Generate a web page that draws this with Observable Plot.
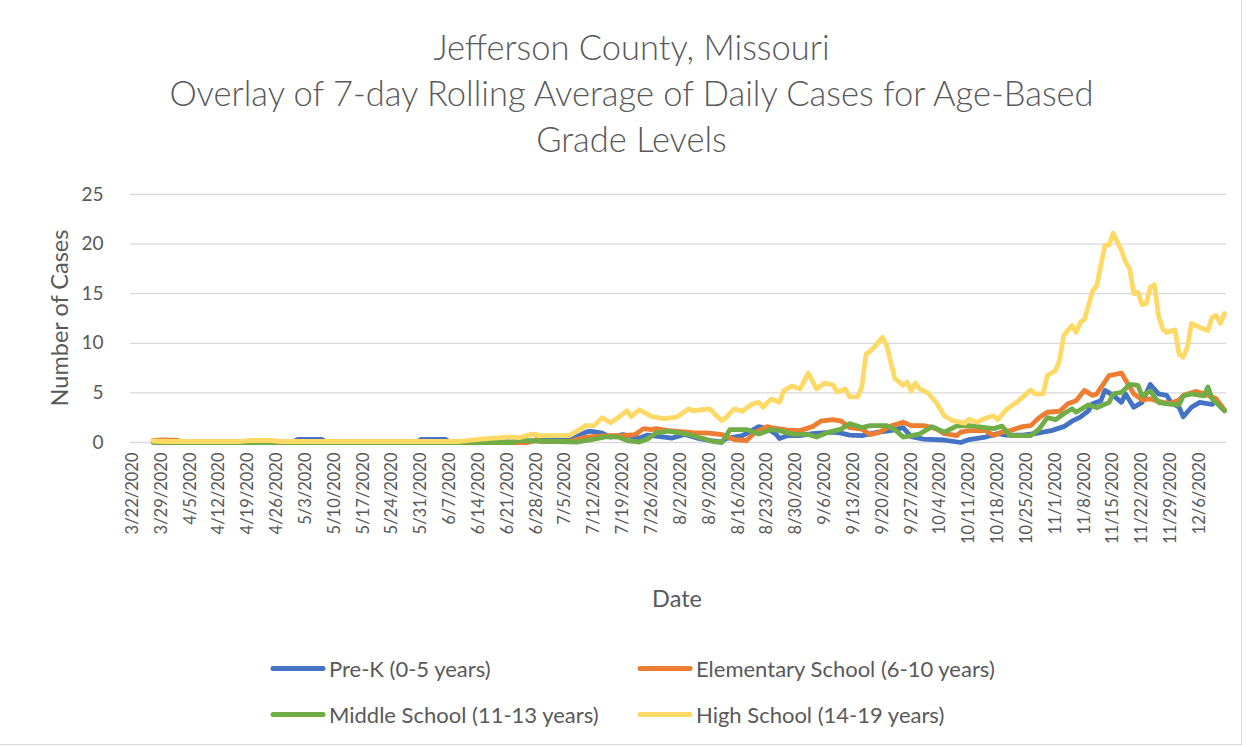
<!DOCTYPE html>
<html>
<head>
<meta charset="utf-8">
<script src="https://cdn.jsdelivr.net/npm/d3@7"></script>
<script src="https://cdn.jsdelivr.net/npm/@observablehq/plot@0.6"></script>
<style>
  html, body { margin: 0; padding: 0; background: #fff; }
  #wrap { position: relative; width: 1253px; height: 747px; overflow: hidden; font-family: Lato, "Open Sans", sans-serif; color: #595959; }
  #frame { position: absolute; left: 0; top: 0; width: 1242px; height: 745px; border-right: 1px solid #D9D9D9; border-bottom: 1px solid #D9D9D9; box-sizing: border-box; pointer-events: none; }
  #title { position: absolute; left: 10px; top: 24px; width: 1243px; text-align: center; font-size: 34.5px; line-height: 46px; font-weight: 300; }
  #chart { position: absolute; left: 0; top: 0; }
  .axtitle { position: absolute; font-size: 23.5px; white-space: nowrap; }
  #ytitle { left: 59px; top: 318px; transform: translate(-50%, -50%) rotate(-90deg); }
  #xtitle { left: 677px; top: 598px; transform: translate(-50%, -50%); }
  .leg { position: absolute; display: flex; align-items: center; font-size: 22px; white-space: nowrap; transform: translateY(-50%); }
  .leg svg { margin-right: 3px; }
</style>
</head>
<body>
<div id="wrap">
  <div id="chart"></div>
  <div id="title">Jefferson County, Missouri<br>Overlay of 7-day Rolling Average of Daily Cases for Age-Based<br>Grade Levels</div>
  <div class="axtitle" id="ytitle">Number of Cases</div>
  <div class="axtitle" id="xtitle">Date</div>
  <div id="legend"></div>
  <div id="frame"></div>
</div>
<script>
// ---- Data ----
const seriesNames = ["Pre-K (0-5 years)", "Elementary School (6-10 years)", "Middle School (11-13 years)", "High School (14-19 years)"];
const seriesColors = ["#4472C4", "#ED7D31", "#70AD47", "#FFD966"];

const yTicks = [0, 5, 10, 15, 20, 25];
const xTickLabels = ["3/22/2020","3/29/2020","4/5/2020","4/12/2020","4/19/2020","4/26/2020","5/3/2020","5/10/2020","5/17/2020","5/24/2020","5/31/2020","6/7/2020","6/14/2020","6/21/2020","6/28/2020","7/5/2020","7/12/2020","7/19/2020","7/26/2020","8/2/2020","8/9/2020","8/16/2020","8/23/2020","8/30/2020","9/6/2020","9/13/2020","9/20/2020","9/27/2020","10/4/2020","10/11/2020","10/18/2020","10/25/2020","11/1/2020","11/8/2020","11/15/2020","11/22/2020","11/29/2020","12/6/2020"];
const firstCategory = "3/22/2020";
const lastCategory = "12/12/2020";

const preKDates = ["3/27","4/30","5/1","5/7","5/8","5/30","5/31","6/6","6/7","6/20","6/29","7/6","7/10","7/11","7/14","7/16","7/19","7/23","7/25","7/29","7/31","8/3","8/6","8/9","8/12","8/13","8/17","8/21","8/23","8/25","8/26","8/28","8/31","9/3","9/8","9/10","9/12","9/15","9/19","9/22","9/25","9/27","9/30","10/5","10/9","10/11","10/15","10/18","10/20","10/24","10/27","10/31","11/3","11/5","11/7","11/9","11/10","11/12","11/13","11/15","11/17","11/18","11/20","11/22","11/24","11/26","11/28","11/29","12/1","12/2","12/4","12/6","12/9","12/10","12/12"];
const preKValues = [0.1,0.05,0.3,0.3,0.05,0.05,0.3,0.3,0.05,0.05,0.2,0.2,1.05,1.15,0.95,0.55,0.8,0.45,0.75,0.55,0.45,0.8,0.45,0.2,0.05,0.4,0.7,1.6,1.4,0.9,0.4,0.7,0.7,0.9,1.05,0.95,0.75,0.7,1.05,1.2,1.5,0.6,0.35,0.25,0.0,0.3,0.55,0.9,0.75,0.75,0.9,1.2,1.6,2.15,2.55,3.2,3.9,4.2,5.25,4.75,4.05,4.9,3.55,4.05,5.85,4.9,4.75,4.05,3.55,2.6,3.55,4.05,3.85,4.2,3.2];

const elemDates = ["3/27","3/29","4/2","4/3","6/26","6/28","6/29","7/6","7/10","7/15","7/19","7/22","7/24","7/26","7/27","7/30","8/2","8/5","8/9","8/12","8/15","8/18","8/20","8/23","8/24","8/28","8/31","9/3","9/5","9/8","9/10","9/12","9/15","9/17","9/19","9/22","9/25","9/27","9/30","10/3","10/5","10/8","10/9","10/11","10/15","10/17","10/19","10/21","10/24","10/26","10/28","10/30","11/2","11/4","11/6","11/8","11/10","11/11","11/14","11/17","11/18","11/20","11/22","11/24","11/27","11/29","12/1","12/2","12/5","12/7","12/10","12/12"];
const elemValues = [0.2,0.25,0.2,0.0,0.0,0.3,0.1,0.1,0.55,0.7,0.7,0.8,1.4,1.3,1.4,1.2,1.1,1.0,0.95,0.8,0.3,0.2,1.0,1.6,1.5,1.25,1.2,1.6,2.15,2.3,2.15,1.5,1.35,0.8,1.0,1.65,2.05,1.7,1.7,1.4,0.9,0.7,1.05,1.2,1.2,0.7,1.05,1.2,1.6,1.7,2.5,3.05,3.15,3.9,4.2,5.25,4.75,4.9,6.75,7.0,6.3,4.9,4.3,4.4,4.05,3.95,4.3,4.75,5.15,4.9,4.4,3.3];

const middleDates = ["3/27","6/22","6/24","7/8","7/12","7/15","7/18","7/20","7/23","7/25","7/27","7/30","8/2","8/4","8/7","8/10","8/12","8/14","8/18","8/21","8/24","8/26","8/29","9/2","9/4","9/7","9/10","9/12","9/15","9/17","9/21","9/23","9/25","9/29","10/2","10/5","10/8","10/11","10/15","10/17","10/19","10/21","10/24","10/26","10/28","10/30","11/1","11/3","11/5","11/6","11/9","11/11","11/14","11/15","11/17","11/19","11/21","11/22","11/24","11/26","11/28","12/1","12/2","12/4","12/7","12/8","12/9","12/12"];
const middleValues = [0.0,0.0,0.2,0.05,0.35,0.6,0.55,0.2,0.05,0.35,0.95,1.15,0.95,0.8,0.45,0.1,0.0,1.3,1.3,0.85,1.3,1.2,0.85,0.8,0.55,1.05,1.35,1.9,1.5,1.7,1.7,1.3,0.55,0.85,1.6,1.05,1.65,1.7,1.5,1.4,1.65,0.7,0.7,0.7,1.35,2.5,2.3,2.9,3.4,3.05,3.8,3.5,4.05,4.9,5.05,5.85,5.75,4.7,5.2,4.05,3.9,3.8,4.7,4.9,4.7,5.6,4.4,3.2];

const highDates = ["3/27","3/30","4/17","4/19","4/25","4/27","6/9","6/12","6/16","6/21","6/24","6/27","6/29","7/6","7/10","7/12","7/14","7/16","7/18","7/20","7/21","7/23","7/26","7/29","8/1","8/4","8/5","8/9","8/12","8/13","8/15","8/17","8/19","8/21","8/22","8/24","8/26","8/27","8/29","8/31","9/2","9/4","9/6","9/8","9/9","9/11","9/12","9/14","9/15","9/16","9/17","9/18","9/20","9/21","9/23","9/25","9/26","9/27","9/28","9/29","10/1","10/3","10/5","10/7","10/10","10/11","10/13","10/15","10/17","10/18","10/20","10/23","10/26","10/27","10/29","10/30","11/1","11/2","11/3","11/5","11/6","11/7","11/8","11/9","11/10","11/11","11/13","11/14","11/15","11/17","11/18","11/19","11/20","11/21","11/22","11/23","11/24","11/25","11/26","11/27","11/28","11/30","12/1","12/2","12/3","12/4","12/6","12/8","12/9","12/10","12/11","12/12"];
const highValues = [0.15,0.1,0.1,0.2,0.2,0.1,0.1,0.25,0.4,0.55,0.5,0.85,0.7,0.7,1.7,1.7,2.5,2.0,2.55,3.2,2.6,3.3,2.6,2.4,2.55,3.4,3.2,3.4,2.2,2.5,3.4,3.15,3.8,4.05,3.55,4.4,4.05,5.2,5.7,5.4,7.0,5.4,6.0,5.8,5.1,5.4,4.6,4.6,5.6,8.9,9.2,9.6,10.6,9.8,6.45,5.75,6.1,5.2,6.0,5.4,5.0,4.05,2.7,2.2,1.95,2.35,2.05,2.45,2.7,2.3,3.3,4.2,5.3,4.9,4.9,6.75,7.25,8.3,10.8,11.8,11.1,12.1,12.4,13.8,15.3,15.8,19.9,19.9,21.1,19.35,18.2,17.5,15.0,15.15,13.9,14.0,15.65,15.9,12.8,11.45,11.1,11.35,8.9,8.6,9.6,12.0,11.6,11.3,12.6,12.8,12.0,13.0];

// ---- Build ----
const parseDate = d3.utcParse("%m/%d/%Y");
const toDate = s => parseDate(s.split("/").length === 3 ? s : s + "/2020");
const halfDay = 12 * 3600 * 1000;

function build(name, dates, values) {
  return dates.map((d, i) => ({series: name, date: toDate(d), value: values[i]}));
}
const allSeries = [
  build(seriesNames[0], preKDates, preKValues),
  build(seriesNames[1], elemDates, elemValues),
  build(seriesNames[2], middleDates, middleValues),
  build(seriesNames[3], highDates, highValues)
];

const xTickDates = xTickLabels.map(toDate);
const tickFmt = d => xTickLabels[xTickDates.findIndex(t => +t === +d)];

const chart = Plot.plot({
  width: 1253,
  height: 747,
  marginTop: 194,
  marginBottom: 305,
  marginLeft: 130,
  marginRight: 27,
  style: {fontFamily: "Lato, 'Open Sans', sans-serif", color: "#595959", background: "transparent", overflow: "visible"},
  x: {type: "utc", domain: [new Date(+toDate(firstCategory) - halfDay), new Date(+toDate(lastCategory) + halfDay)]},
  y: {domain: [0, 25]},
  color: {domain: seriesNames, range: seriesColors},
  marks: [
    Plot.gridY(yTicks, {stroke: "#D9D9D9", strokeOpacity: 1, strokeWidth: 1.3}),
    Plot.axisY(yTicks, {tickSize: 0, tickPadding: 27, fontSize: 19, label: null, fill: "#595959"}),
    Plot.axisX(xTickDates, {tickSize: 0, tickRotate: -90, tickPadding: 10, fontSize: 16.5, tickFormat: tickFmt, label: null, fill: "#595959"}),
    ...allSeries.map(s => Plot.line(s, {x: "date", y: "value", stroke: "series", strokeWidth: 4.8, strokeLinejoin: "round", strokeLinecap: "round"}))
  ]
});
document.getElementById("chart").appendChild(chart);

// ---- Legend ----
const legendPos = [
  {sx: 270, top: 668}, {sx: 637, top: 668},
  {sx: 270, top: 714}, {sx: 637, top: 714}
];
const legend = document.getElementById("legend");
seriesNames.forEach((name, i) => {
  const el = document.createElement("div");
  el.className = "leg";
  el.style.left = legendPos[i].sx + "px";
  el.style.top = legendPos[i].top + "px";
  el.innerHTML = `<svg width="56" height="8"><line x1="3" y1="4" x2="53" y2="4" stroke="${seriesColors[i]}" stroke-width="5" stroke-linecap="round"/></svg><span>${name}</span>`;
  legend.appendChild(el);
});
</script>
</body>
</html>
